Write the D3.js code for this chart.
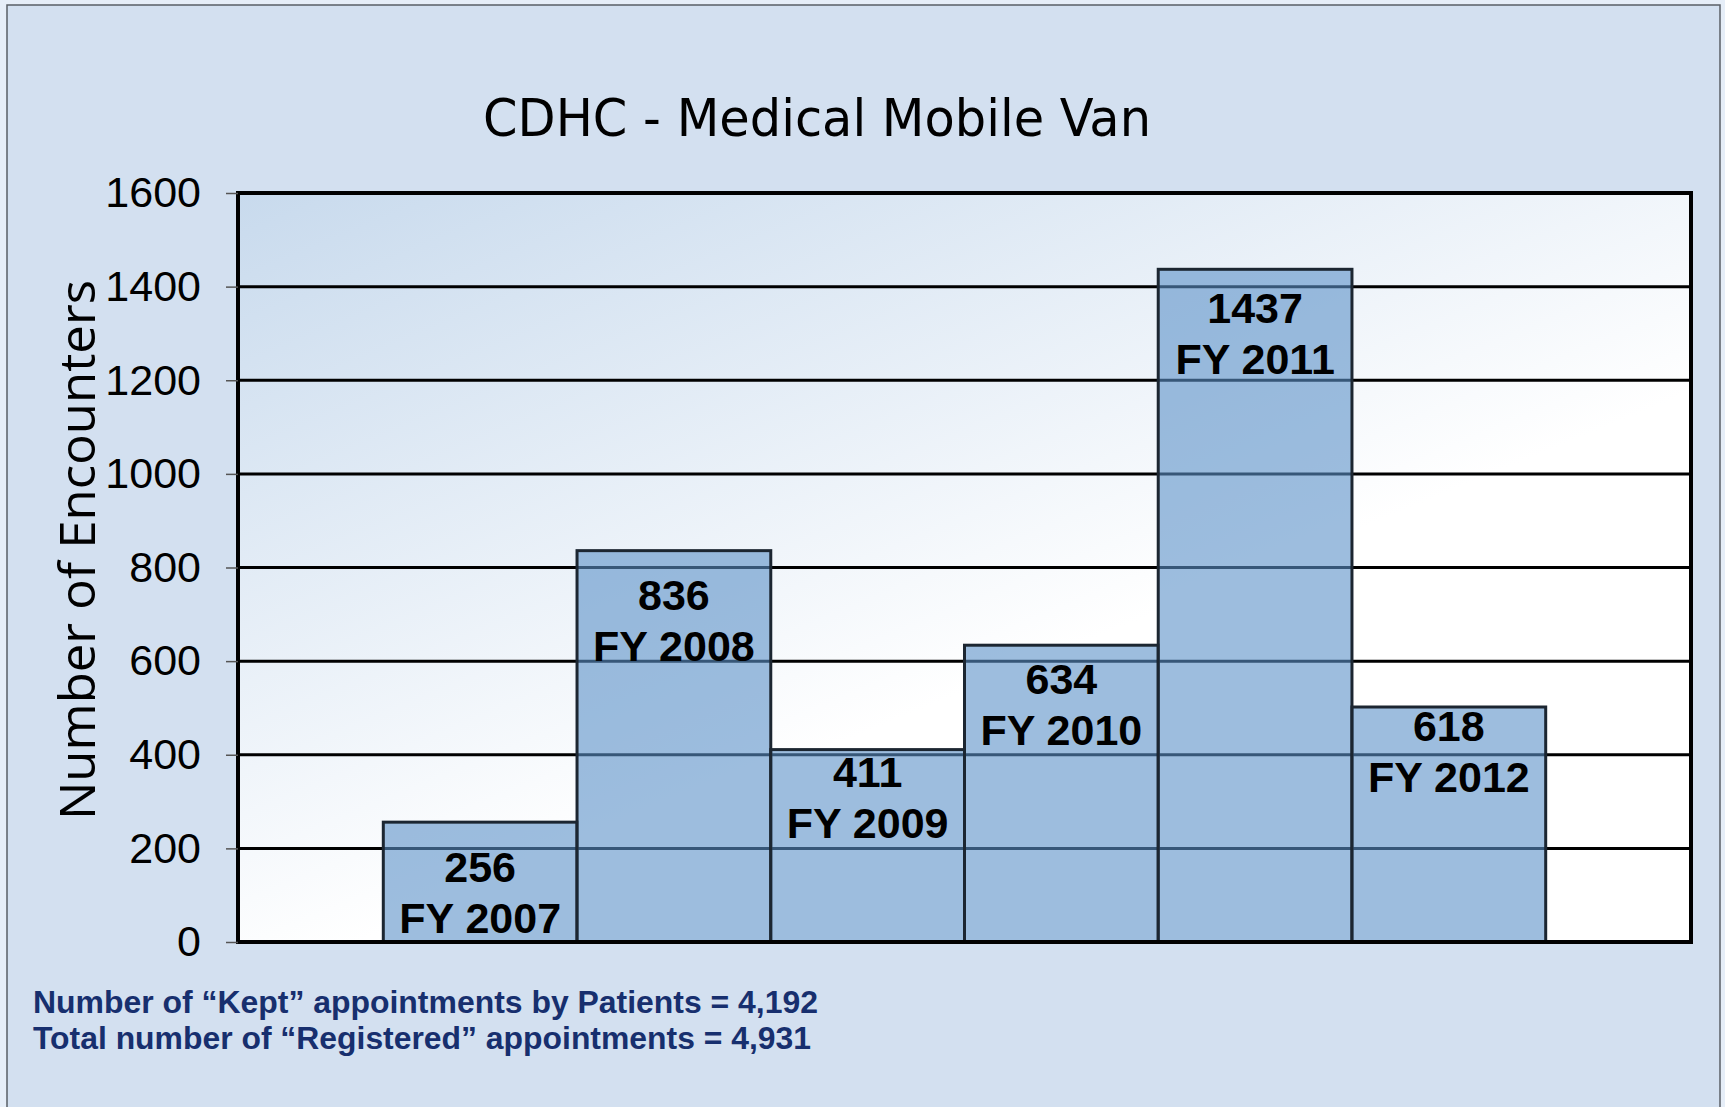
<!DOCTYPE html>
<html>
<head>
<meta charset="utf-8">
<script src="https://cdn.jsdelivr.net/npm/d3@7"></script>
<style>
  html, body { margin: 0; padding: 0; background: #e6eef8; }
  svg { display: block; }
</style>
</head>
<body>
<div id="chart"></div>
<script>
// Data
const years = ["FY 2007", "FY 2008", "FY 2009", "FY 2010", "FY 2011", "FY 2012"];
const valueLabels = ["256", "836", "411", "634", "1437", "618"];
// bar heights as drawn (the FY 2012 bar is drawn lower than its 618 label)
const barHeights = [256, 836, 411, 634, 1437, 502];
// where each label sits on the value axis (labels were placed by hand)
const labelAnchors = [160, 741, 363, 562, 1355, 461];
const yTicks = [0, 200, 400, 600, 800, 1000, 1200, 1400, 1600];
const notes = [
  "Number of \u201cKept\u201d appointments by Patients = 4,192",
  "Total number of \u201cRegistered\u201d appointments = 4,931"
];

const W = 1725, H = 1107;
const plot = { left: 238, right: 1691, top: 193, bottom: 942 };

const svg = d3.select("#chart").append("svg")
  .attr("width", W)
  .attr("height", H);

// gradient for the plot area
const defs = svg.append("defs");
const grad = defs.append("linearGradient")
  .attr("id", "plotBg")
  .attr("x1", 0).attr("y1", 0).attr("x2", 0.8).attr("y2", 1);
grad.append("stop").attr("offset", "0%").attr("stop-color", "#c8daed");
grad.append("stop").attr("offset", "65%").attr("stop-color", "#ffffff");
grad.append("stop").attr("offset", "100%").attr("stop-color", "#ffffff");

// outer panel
svg.append("rect")
  .attr("x", 7).attr("y", 5)
  .attr("width", 1713).attr("height", H)
  .attr("fill", "#d3e0f0")
  .attr("stroke", "#5a5f66")
  .attr("stroke-width", 1.5);

// scales
const x = d3.scaleBand()
  .domain(years)
  .range([plot.left, plot.right])
  .paddingInner(0)
  .paddingOuter(0.75);

const y = d3.scaleLinear()
  .domain([0, 1600])
  .range([plot.bottom, plot.top]);

// plot background
svg.append("rect")
  .attr("x", plot.left).attr("y", plot.top)
  .attr("width", plot.right - plot.left)
  .attr("height", plot.bottom - plot.top)
  .attr("fill", "url(#plotBg)");

// gridlines
svg.append("g")
  .selectAll("line")
  .data(yTicks.filter(d => d > 0 && d < 1600))
  .join("line")
  .attr("x1", plot.left).attr("x2", plot.right)
  .attr("y1", d => y(d)).attr("y2", d => y(d))
  .attr("stroke", "#000")
  .attr("stroke-width", 3);

// bars (semi transparent so the gridlines show through)
svg.append("g")
  .selectAll("rect")
  .data(years)
  .join("rect")
  .attr("x", d => x(d))
  .attr("y", (d, i) => y(barHeights[i]))
  .attr("width", x.bandwidth())
  .attr("height", (d, i) => y(0) - y(barHeights[i]))
  .attr("fill", "rgb(92,145,200)")
  .attr("fill-opacity", 0.6)
  .attr("stroke", "#1c2631")
  .attr("stroke-width", 3);

// plot frame
svg.append("rect")
  .attr("x", plot.left).attr("y", plot.top)
  .attr("width", plot.right - plot.left)
  .attr("height", plot.bottom - plot.top)
  .attr("fill", "none")
  .attr("stroke", "#000")
  .attr("stroke-width", 4);

// y axis
const yAxis = svg.append("g")
  .attr("transform", `translate(${plot.left},0)`)
  .call(d3.axisLeft(y).tickValues(yTicks).tickFormat(d3.format("d")).tickSize(12).tickPadding(25));
yAxis.select(".domain").remove();
yAxis.selectAll(".tick line").attr("stroke", "#555").attr("stroke-width", 1.5);
yAxis.selectAll(".tick text")
  .attr("fill", "#000")
  .style("font-family", "'Liberation Sans', Arial, sans-serif")
  .style("font-size", "43px");

// bar labels
const lab = svg.append("g")
  .style("font-family", "'Liberation Sans', Arial, sans-serif")
  .style("font-weight", "bold")
  .style("font-size", "43px")
  .attr("text-anchor", "middle");

lab.selectAll("text.val")
  .data(years)
  .join("text")
  .attr("class", "val")
  .attr("x", d => x(d) + x.bandwidth() / 2)
  .attr("y", (d, i) => y(labelAnchors[i]) + 15)
  .text((d, i) => valueLabels[i]);

lab.selectAll("text.yr")
  .data(years)
  .join("text")
  .attr("class", "yr")
  .attr("x", d => x(d) + x.bandwidth() / 2)
  .attr("y", (d, i) => y(labelAnchors[i]) + 66)
  .text(d => d);

// title
svg.append("text")
  .attr("x", 483).attr("y", 136)
  .attr("textLength", 668)
  .attr("lengthAdjust", "spacingAndGlyphs")
  .style("font-family", "'DejaVu Sans Condensed', 'DejaVu Sans', sans-serif")
  .style("font-size", "52px")
  .attr("fill", "#000")
  .text("CDHC - Medical Mobile Van");

// y axis title
svg.append("text")
  .attr("transform", "translate(95,550) rotate(-90)")
  .attr("text-anchor", "middle")
  .attr("textLength", 540)
  .attr("lengthAdjust", "spacingAndGlyphs")
  .style("font-family", "'Open Sans', sans-serif")
  .style("font-size", "49px")
  .attr("fill", "#000")
  .text("Number of Encounters");

// notes under the chart
const noteWidths = [785, 778];
svg.append("g")
  .selectAll("text")
  .data(notes)
  .join("text")
  .attr("x", 33)
  .attr("y", (d, i) => 1013 + i * 36)
  .attr("textLength", (d, i) => noteWidths[i])
  .attr("lengthAdjust", "spacingAndGlyphs")
  .style("font-family", "'Liberation Sans', Arial, sans-serif")
  .style("font-weight", "bold")
  .style("font-size", "31px")
  .attr("fill", "#172f6e")
  .text(d => d);
</script>
</body>
</html>
